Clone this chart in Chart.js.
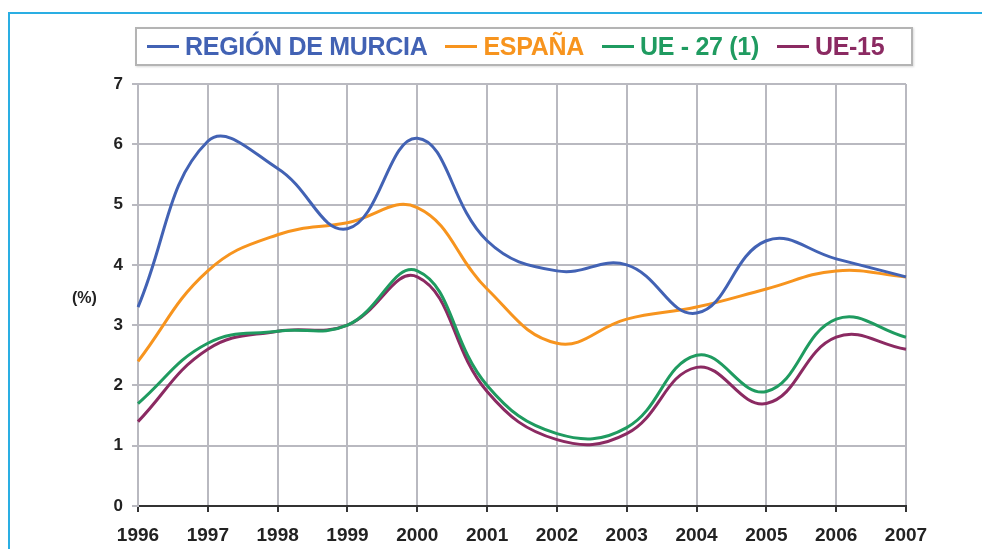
<!DOCTYPE html>
<html>
<head>
<meta charset="utf-8">
<script src="https://cdn.jsdelivr.net/npm/chart.js@4"></script>
<style>
    body { margin: 0; background: #fff; font-family: "Liberation Sans", Arial, sans-serif; }
    #wrap { position: relative; width: 982px; height: 549px; overflow: hidden; }
    #frame { position: absolute; left: 8px; top: 12px; right: -4px; bottom: -4px; border-top: 2px solid #2aaee3; border-left: 2px solid #2aaee3; }
    #legend { position: absolute; left: 135px; top: 27px; width: 764px; height: 35px; border: 2px solid #b4b4b4;
              box-shadow: 1px 1px 2px rgba(0,0,0,0.15); display: flex; align-items: center; padding-left: 10px; box-sizing: content-box; }
    .item { display: flex; align-items: center; margin-right: 18px; font-weight: bold; font-size: 25px; letter-spacing: -0.3px; }
    .mark { width: 32px; height: 3px; margin-right: 6px; }
    #unit { position: absolute; left: 72px; top: 289px; font-weight: bold; font-size: 16px; color: #222; }
    #chartBox { position: absolute; left: 0; top: 0; width: 982px; height: 549px; }
</style>
</head>
<body>
<div id="wrap">
    <div id="frame"></div>
    <div id="chartBox"><canvas id="chart"></canvas></div>
    <div id="legend"></div>
    <div id="unit">(%)</div>
</div>
<script>
// Data
const years = ["1996", "1997", "1998", "1999", "2000", "2001", "2002", "2003", "2004", "2005", "2006", "2007"];
const murcia = [3.3, 6.05, 5.6, 4.6, 6.1, 4.4, 3.9, 4.0, 3.2, 4.4, 4.1, 3.8];
const espana = [2.4, 3.9, 4.5, 4.7, 4.95, 3.6, 2.7, 3.1, 3.3, 3.6, 3.9, 3.8];
const ue27 = [1.7, 2.7, 2.9, 3.0, 3.9, 2.0, 1.2, 1.3, 2.5, 1.9, 3.1, 2.8];
const ue15 = [1.4, 2.6, 2.9, 3.0, 3.8, 1.9, 1.1, 1.2, 2.3, 1.7, 2.8, 2.6];
const yTicks = [0, 1, 2, 3, 4, 5, 6, 7];

const seriesNames = ["REGIÓN DE MURCIA", "ESPAÑA", "UE - 27 (1)", "UE-15"];
const seriesColors = ["#4262b4", "#f7941e", "#1f9b60", "#8b2a62"];
const seriesData = [murcia, espana, ue27, ue15];

Chart.defaults.font.family = "'Liberation Sans', Arial, sans-serif";
Chart.defaults.font.weight = "bold";

const datasets = seriesNames.map((name, i) => ({
    label: name,
    data: seriesData[i],
    borderColor: seriesColors[i],
    backgroundColor: seriesColors[i],
    borderWidth: 3,
    pointRadius: 0,
    tension: 0.42,
    fill: false
}));

// HTML legend built from the series
const legend = document.getElementById("legend");
legend.innerHTML = seriesNames.map((name, i) => `
    <div class="item" style="color:${seriesColors[i]}">
        <div class="mark" style="background:${seriesColors[i]}"></div>${name}
    </div>`).join("");

const gridGray = "#b9b9c0";

new Chart(document.getElementById("chart"), {
    type: "line",
    data: { labels: years, datasets: datasets },
    options: {
        responsive: true,
        maintainAspectRatio: false,
        animation: false,
        layout: { padding: { top: 84, right: 76, bottom: 0, left: 0 } },
        plugins: {
            legend: { display: false },
            tooltip: { enabled: false }
        },
        scales: {
            x: {
                offset: false,
                grid: { color: gridGray, lineWidth: 2, tickColor: "#333", tickLength: 6 },
                border: { color: "#333", width: 2 },
                ticks: { color: "#222", font: { size: 19, weight: "bold" }, padding: 12, maxRotation: 0, autoSkip: false },
                afterFit: s => { s.height = 43; s.paddingLeft = 0; s.paddingRight = 0; }
            },
            y: {
                min: 0,
                max: 7,
                afterBuildTicks: s => { s.ticks = yTicks.map(v => ({ value: v })); },
                grid: { color: gridGray, lineWidth: 2, tickColor: gridGray, tickLength: 6 },
                border: { color: gridGray, width: 2 },
                ticks: { color: "#222", font: { size: 17, weight: "bold" }, padding: 9 },
                afterFit: s => { s.width = 138; s.paddingTop = 0; s.paddingBottom = 0; }
            }
        }
    }
});
</script>
</body>
</html>
